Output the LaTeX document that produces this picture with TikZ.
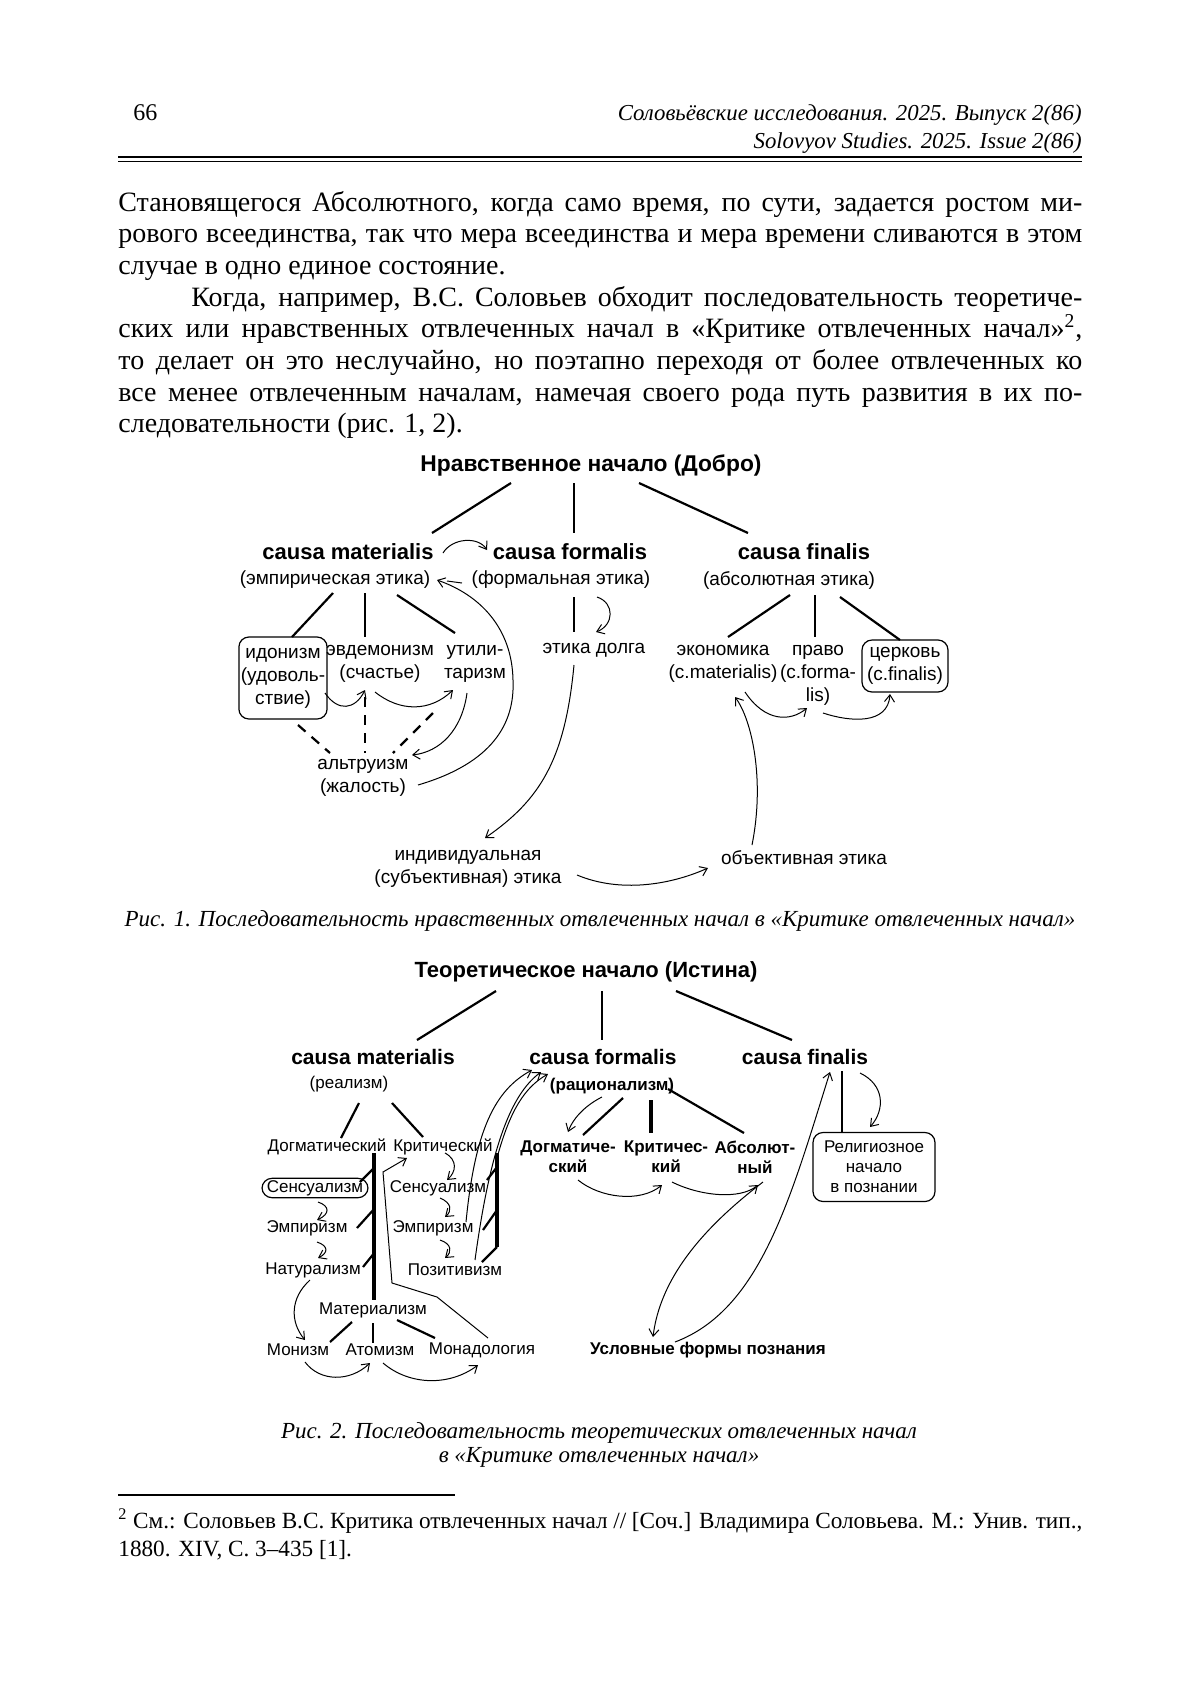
\documentclass[tikz,border=0pt]{standalone}
\usepackage{fontspec}
\setmainfont{Liberation Serif}
\newfontfamily\dsans{Liberation Sans}
\usetikzlibrary{calc,arrows.meta}
\tikzset{
  bodyline/.style={anchor=base west, inner sep=0pt, font=\fontsize{14}{16}\selectfont},
  headline/.style={anchor=base east, inner sep=0pt, font=\itshape\fontsize{11.4}{14}\selectfont},
  capline/.style={anchor=base, inner sep=0pt, font=\itshape\fontsize{11.5}{14}\selectfont},
  noteline/.style={anchor=base west, inner sep=0pt, font=\fontsize{11.6}{14}\selectfont},
  ttl/.style={inner sep=1pt, font=\dsans\bfseries\fontsize{11.4}{13}\selectfont},
  causa/.style={inner sep=1pt, font=\dsans\bfseries\fontsize{11}{12}\selectfont},
  lbl/.style={inner sep=1pt, align=center, font=\dsans\fontsize{9.5}{11.5}\selectfont},
  sml/.style={inner sep=1pt, align=center, font=\dsans\fontsize{8.5}{10}\selectfont},
  smlb/.style={inner sep=1pt, align=center, font=\dsans\bfseries\fontsize{8.5}{10}\selectfont},
  tree/.style={line width=1.1pt},
  thk/.style={line width=1.7pt},
  arr/.style={-{Straight Barb[length=3.5pt,width=5pt]}, line width=0.5pt},
  dsh/.style={line width=1.1pt, dash pattern=on 5pt off 4pt},
  boxed/.style={draw, rounded corners=5pt, line width=0.6pt}
}
\begin{document}
\begin{tikzpicture}[x=0.5pt,y=-0.5pt]
\useasboundingbox (0,0) rectangle (1200,1708);
\fill[white] (0,0) rectangle (1200,1708);

% header
\node[anchor=base west, inner sep=0pt, font=\fontsize{12}{14}\selectfont] (pgno) at (133,120) {66};
\node[headline] (hd1) at (1082,120) {Соловьёвские исследования. 2025. Выпуск 2(86)};
\node[headline] (hd2) at (1082,148) {Solovyov Studies. 2025. Issue 2(86)};
\draw[line width=1.2pt] (118,157) -- (1082,157);
\draw[line width=0.4pt] (118,161) -- (1082,161);

% text
\node[bodyline] (p1) at (118,211) {\makebox[482pt][s]{Становящегося Абсолютного, когда само время, по сути, задается ростом ми-}};
\node[bodyline] (p2) at (118,242.7) {\makebox[482pt][s]{рового всеединства, так что мера всеединства и мера времени сливаются в этом}};
\node[bodyline] (p3) at (118,274.4) {случае в одно единое состояние.};
\node[bodyline] (p4) at (191,306.1) {\makebox[445.5pt][s]{Когда, например, В.С. Соловьев обходит последовательность теоретиче-}};
\node[bodyline] (p5) at (118,337.8) {\makebox[482pt][s]{ских или нравственных отвлеченных начал в «Критике отвлеченных начал»\textsuperscript{2},}};
\node[bodyline] (p6) at (118,369.5) {\makebox[482pt][s]{то делает он это неслучайно, но поэтапно переходя от более отвлеченных ко}};
\node[bodyline] (p7) at (118,401.2) {\makebox[482pt][s]{все менее отвлеченным началам, намечая своего рода путь развития в их по-}};
\node[bodyline] (p8) at (118,432.9) {следовательности (рис. 1, 2).};

% fig 1
\node[ttl] (t1) at (591,465) {Нравственное начало (Добро)};
\node[causa] (cm1) at (348,552) {causa materialis};
\node[causa] (cf1) at (570,552) {causa formalis};
\node[causa] (cfn1) at (804,552) {causa finalis};
\node[lbl] (em1) at (335,580) {(эмпирическая этика)};
\node[lbl] (fe1) at (561,580) {(формальная этика)};
\node[lbl] (ae1) at (789,580) {(абсолютная этика)};
\node[lbl, boxed, minimum width=41.5pt, minimum height=41pt] (ido) at (283,678) {идонизм\\(удоволь-\\ствие)};
\node[lbl] (evd) at (380,664) {эвдемонизм\\(счастье)};
\node[lbl] (uti) at (475,664) {утили-\\таризм};
\node[lbl] (dolg) at (594,650) {этика долга};
\node[lbl] (eko) at (723,664) {экономика\\(c.materialis)};
\node[lbl] (pravo) at (818,675) {право\\(c.forma-\\lis)};
\node[lbl, boxed, minimum width=43pt, minimum height=26pt] (cerk) at (905,666) {церковь\\(c.finalis)};
\node[lbl] (altr) at (363,778) {альтруизм\\(жалость)};
\node[lbl] (ind) at (468,869) {индивидуальная\\(субъективная) этика};
\node[lbl] (obj) at (804,858) {объективная этика};

\draw[tree] ($(t1)+(-80,18)$) -- ($(cm1)+(84,-19)$);
\draw[tree] ($(t1)+(-17,18)$) -- ($(cf1)+(4,-19)$);
\draw[tree] ($(t1)+(48,18)$) -- ($(cfn1)+(-56,-19)$);
\draw[arr] ($(cm1)+(95,1)$) .. controls (452,538) and (478,536) .. ($(cf1)+(-83,-2)$);
\draw[tree] ($(em1)+(-2,13)$) -- ($(ido)+(9,-41)$);
\draw[tree] ($(em1)+(30,13)$) -- ($(evd)+(-15,-27)$);
\draw[tree] ($(em1)+(62,15)$) -- ($(uti)+(-20,-31)$);
\draw[tree] ($(fe1)+(13,17)$) -- ($(dolg)+(-20,-18)$);
\draw[arr] ($(fe1)+(36,17)$) .. controls (615,603) and (614,625) .. ($(dolg)+(2,-18)$);
\draw[tree] ($(ae1)+(1,15)$) -- ($(eko)+(5,-27)$);
\draw[tree] ($(ae1)+(26,15)$) -- ($(pravo)+(-3,-38)$);
\draw[tree] ($(ae1)+(51,17)$) -- ($(cerk)+(-5,-26)$);
\draw[arr] ($(ido)+(42,15)$) .. controls (338,712) and (355,710) .. ($(evd)+(-15,26)$);
\draw[arr] ($(evd)+(-5,28)$) .. controls (400,712) and (430,712) .. ($(uti)+(-22,26)$);
\draw[arr] ($(uti)+(-8,29)$) .. controls (462,730) and (440,752) .. ($(altr)+(49,-23)$);
\draw[dsh] ($(ido)+(15,47)$) -- ($(altr)+(-33,-25)$);
\draw[dsh] ($(evd)+(-15,33)$) -- ($(altr)+(2,-25)$);
\draw[dsh] ($(uti)+(-42,49)$) -- ($(altr)+(30,-25)$);
\draw[arr] ($(altr)+(55,7)$) .. controls ($(altr)+(130,-15)$) and ($(altr)+(152,-55)$) .. ($(altr)+(150,-98)$)
  .. controls ($(altr)+(149,-150)$) and ($(em1)+(145,15)$) .. ($(em1)+(102,0)$);
\draw[line width=0.5pt] ($(em1)+(127,3)$) -- ($(em1)+(112,1)$);
\draw[arr] ($(dolg)+(-20,15)$) .. controls (565,760) and (540,800) .. ($(ind)+(17,-31)$);
\draw[arr] ($(eko)+(22,28)$) .. controls (765,722) and (790,722) .. ($(pravo)+(-11,33)$);
\draw[arr] ($(pravo)+(5,38)$) .. controls (850,722) and (888,725) .. ($(cerk)+(-15,28)$);
\draw[arr] ($(obj)+(-52,-13)$) .. controls (765,780) and (752,720) .. ($(eko)+(12,33)$);
\draw[arr] ($(ind)+(109,6)$) .. controls (620,893) and (670,885) .. ($(obj)+(-96,10)$);

\node[capline] (cap1) at (600,926) {Рис. 1. Последовательность нравственных отвлеченных начал в «Критике отвлеченных начал»};

% fig 2
\node[ttl, font=\dsans\bfseries\fontsize{11}{13}\selectfont] (t2) at (586,972) {Теоретическое начало (Истина)};
\node[causa, font=\dsans\bfseries\fontsize{10.5}{12}\selectfont] (cm2) at (373,1057) {causa materialis};
\node[causa, font=\dsans\bfseries\fontsize{10.5}{12}\selectfont] (cf2) at (603,1057) {causa formalis};
\node[causa, font=\dsans\bfseries\fontsize{10.5}{12}\selectfont] (cfn2) at (805,1057) {causa finalis};
\node[sml] (re2) at (349,1084) {(реализм)};
\node[smlb] (ra2) at (612,1086) {(рационализм)};
\node[sml] (dog2) at (327,1147) {Догматический};
\node[sml] (kri2) at (443,1147) {Критический};
\node[sml, draw, rounded corners=5pt, line width=0.6pt, minimum width=53pt] (sen2a) at (315,1188) {Сенсуализм};
\node[sml] (emp2a) at (307,1228) {Эмпиризм};
\node[sml] (nat2) at (313,1270) {Натурализм};
\node[sml] (mat2) at (373,1310) {Материализм};
\node[sml] (mon) at (298,1350) {Монизм};
\node[sml] (atom) at (380,1350) {Атомизм};
\node[sml] (monad) at (482,1350) {Монадология};
\node[sml] (sen2b) at (438,1188) {Сенсуализм};
\node[sml] (emp2b) at (433,1228) {Эмпиризм};
\node[sml] (poz) at (455,1270) {Позитивизм};
\node[smlb] (dg3) at (568,1157) {Догматиче-\\ский};
\node[smlb] (kr3) at (666,1157) {Критичес-\\кий};
\node[smlb] (ab3) at (755,1157) {Абсолют-\\ный};
\node[smlb] (usl) at (708,1350) {Условные формы познания};
\node[sml, boxed, minimum width=61pt, minimum height=34.5pt] (rel) at (874,1167) {Религиозное\\начало\\в познании};

\draw[tree] ($(t2)+(-90,19)$) -- ($(cm2)+(44,-17)$);
\draw[tree] ($(t2)+(16,19)$) -- ($(cf2)+(-1,-17)$);
\draw[tree] ($(t2)+(90,19)$) -- ($(cfn2)+(-13,-17)$);
\draw[tree] ($(re2)+(10,19)$) -- ($(dog2)+(14,-9)$);
\draw[tree] ($(re2)+(43,19)$) -- ($(kri2)+(-20,-10)$);
\draw[thk] ($(dog2)+(47,6)$) -- ($(mat2)+(1,-10)$);
\draw[tree] ($(dog2)+(48,20)$) -- ($(sen2a)+(45,-6)$);
\draw[tree] ($(dog2)+(48,61)$) -- ($(emp2a)+(50,0)$);
\draw[tree] ($(dog2)+(48,105)$) -- ($(nat2)+(50,-3)$);
\draw[arr] ($(sen2a)+(3,14)$) .. controls (330,1206) and (330,1214) .. ($(emp2a)+(10,-8)$);
\draw[arr] ($(emp2a)+(10,14)$) .. controls (329,1246) and (328,1253) .. ($(nat2)+(5,-12)$);
\draw[arr] ($(nat2)+(-3,10)$) .. controls (290,1298) and (290,1322) .. ($(mon)+(7,-10)$);
\draw[tree] ($(mat2)+(-21,12)$) -- ($(mon)+(32,-8)$);
\draw[tree] ($(mat2)+(0,13)$) -- ($(atom)+(-7,-7)$);
\draw[tree] ($(mat2)+(24,10)$) -- ($(monad)+(-47,-12)$);
\draw[arr] ($(mon)+(7,12)$) .. controls (320,1382) and (350,1382) .. ($(atom)+(-10,13)$);
\draw[arr] ($(atom)+(3,13)$) .. controls (410,1386) and (450,1386) .. ($(monad)+(-4,15)$);
\draw[arr] ($(monad)+(6,-12)$) -- ($(mat2)+(64,-13)$) -- ($(mat2)+(19,-27)$) -- ($(kri2)+(-60,25)$) -- ($(kri2)+(-36,11)$);
\draw[arr] ($(kri2)+(2,6)$) .. controls (458,1160) and (456,1172) .. ($(sen2b)+(9,-8)$);
\draw[arr] ($(sen2b)+(2,10)$) .. controls (452,1203) and (452,1211) .. ($(emp2b)+(12,-11)$);
\draw[arr] ($(emp2b)+(7,12)$) .. controls (452,1244) and (452,1252) .. ($(poz)+(-10,-12)$);
\draw[thk] ($(kri2)+(54,6)$) -- ($(poz)+(42,-23)$);
\draw[tree] ($(kri2)+(54,20)$) -- ($(sen2b)+(49,-8)$);
\draw[tree] ($(kri2)+(54,63)$) -- ($(emp2b)+(50,2)$);
\draw[tree] ($(poz)+(42,-23)$) -- ($(poz)+(27,-8)$);
\draw[arr] ($(emp2b)+(33,-6)$) .. controls (475,1130) and (495,1090) .. ($(cf2)+(-71,13)$);
\draw[arr] ($(poz)+(20,-10)$) .. controls (490,1150) and (510,1095) .. ($(cf2)+(-62,15)$);
\draw[arr] ($(kri2)+(54,11)$) .. controls (510,1110) and (525,1087) .. ($(cf2)+(-55,17)$);
\draw[arr] ($(ra2)+(-10,11)$) .. controls (588,1104) and (574,1116) .. ($(dg3)+(0,-25)$);
\draw[tree] ($(ra2)+(11,12)$) -- ($(dg3)+(15,-22)$);
\draw[thk] ($(ra2)+(39,14)$) -- ($(kr3)+(-15,-24)$);
\draw[tree] ($(ra2)+(56,3)$) -- ($(ab3)+(-11,-24)$);
\draw[arr] ($(dg3)+(10,23)$) .. controls (600,1198) and (640,1203) .. ($(kr3)+(-4,28)$);
\draw[arr] ($(kr3)+(6,25)$) .. controls (700,1196) and (740,1200) .. ($(ab3)+(3,28)$);
\draw[arr] ($(ab3)+(8,25)$) .. controls (700,1230) and (660,1280) .. ($(usl)+(-55,-13)$);
\draw[arr] ($(usl)+(-33,-8)$) .. controls (760,1310) and (790,1200) .. ($(cfn2)+(25,15)$);
\draw[tree] ($(cfn2)+(37,14)$) -- ($(rel)+(-32,-34)$);
\draw[arr] ($(cfn2)+(55,16)$) .. controls (885,1085) and (885,1110) .. ($(rel)+(-4,-40)$);

\node[capline] (cap2a) at (599,1438) {Рис. 2. Последовательность теоретических отвлеченных начал};
\node[capline] (cap2b) at (599,1462) {в «Критике отвлеченных начал»};

% footnote
\draw[line width=0.6pt] (118,1495) -- (455,1495);
\node[noteline] (fn1) at (118,1528) {\makebox[482pt][s]{\textsuperscript{2} См.: Соловьев В.С. Критика отвлеченных начал // [Соч.] Владимира Соловьева. М.: Унив. тип.,}};
\node[noteline] (fn2) at (118,1556) {1880. XIV, С. 3–435 [1].};
\end{tikzpicture}
\end{document}
